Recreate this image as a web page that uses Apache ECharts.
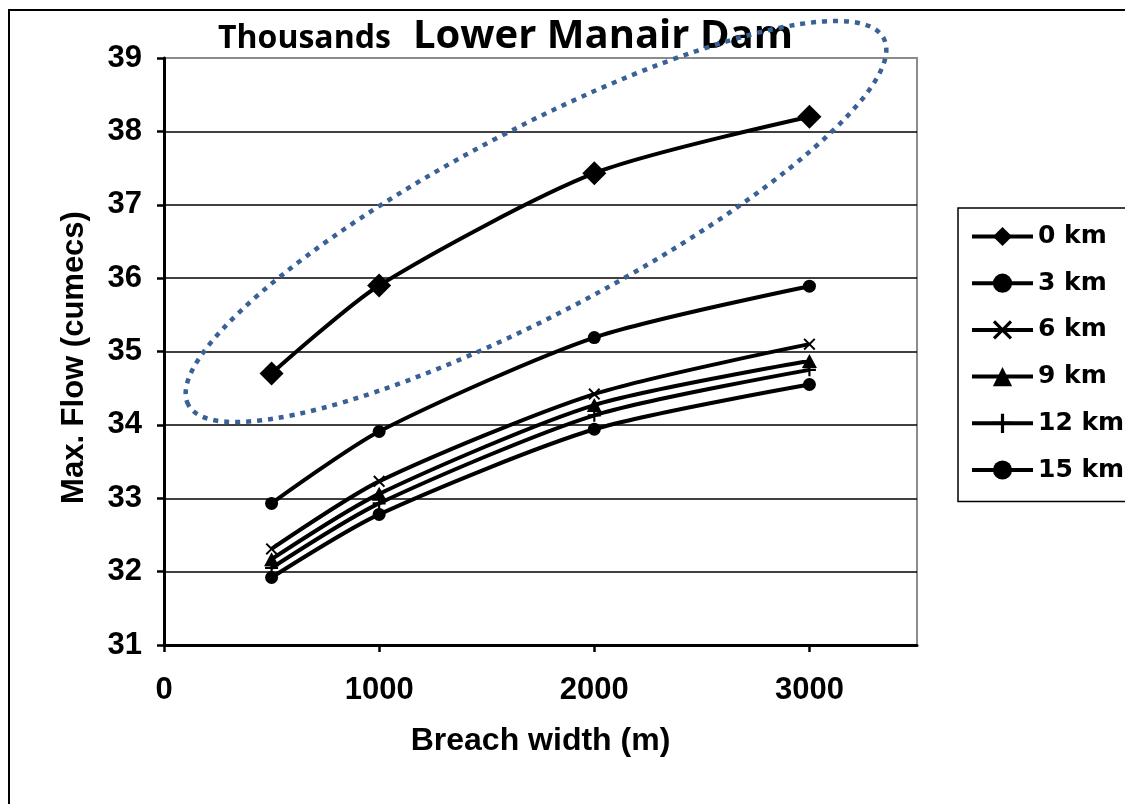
<!DOCTYPE html>
<html>
<head>
<meta charset="utf-8">
<title>Lower Manair Dam</title>
<script src="https://cdn.jsdelivr.net/npm/echarts@6/dist/echarts.min.js"></script>
<style>
  html, body { margin: 0; padding: 0; background: #fff; }
  #chart { width: 1125px; height: 804px; }
</style>
</head>
<body>
<div id="chart"></div>
<script>
// Breach widths (m) at which the peak flow was computed
const breachWidths = [500, 1000, 2000, 3000];

// Peak flow (thousand cumecs) at each distance downstream of the dam
const flow0km  = [34.70, 35.90, 37.43, 38.20];
const flow3km  = [32.93, 33.91, 35.19, 35.89];
const flow6km  = [32.31, 33.23, 34.42, 35.10];
const flow9km  = [32.17, 33.06, 34.27, 34.87];
const flow12km = [32.05, 32.93, 34.13, 34.75];
const flow15km = [31.92, 32.78, 33.94, 34.55];

const seriesNames = ['0 km', '3 km', '6 km', '9 km', '12 km', '15 km'];
const seriesValues = [flow0km, flow3km, flow6km, flow9km, flow12km, flow15km];

// Axis ticks
const xTicks = [0, 1000, 2000, 3000];
const yTicks = [31, 32, 33, 34, 35, 36, 37, 38, 39];

// Marker shapes
const plusPath = 'path://M5,0H7V5H12V7H7V12H5V7H0V5H5Z';
const crossPath = 'path://M0,1.4L1.4,0L6,4.6L10.6,0L12,1.4L7.4,6L12,10.6L10.6,12L6,7.4L1.4,12L0,10.6L4.6,6Z';
const markers = [
  { symbol: 'diamond',  size: 24 },
  { symbol: 'circle',   size: 13 },
  { symbol: crossPath,  size: 12 },
  { symbol: 'triangle', size: [15, 14] },
  { symbol: plusPath,   size: 13 },
  { symbol: 'circle',   size: 13 }
];

const axisFont = { fontFamily: 'Liberation Sans', fontWeight: 'bold', color: '#000' };

const chart = echarts.init(document.getElementById('chart'), null, { renderer: 'canvas' });

const series = seriesNames.map((name, i) => ({
  name: name,
  type: 'line',
  smooth: 0.25,
  data: breachWidths.map((w, j) => [w, seriesValues[i][j]]),
  symbol: markers[i].symbol,
  symbolSize: markers[i].size,
  showAllSymbol: true,
  lineStyle: { color: '#000', width: 4 },
  itemStyle: { color: '#000' },
  emphasis: { disabled: true },
  z: 5
}));

chart.setOption({
  animation: false,
  backgroundColor: '#fff',
  title: {
    text: 'Lower Manair Dam',
    left: 413,
    top: 17,
    padding: 0,
    textStyle: { fontFamily: 'Open Sans', fontWeight: 'bold', fontSize: 40, color: '#000' }
  },
  grid: {
    left: 164, top: 58, right: 208, bottom: 159,
    show: true,
    backgroundColor: '#fff',
    borderColor: '#8c8c8c',
    borderWidth: 2,
    outerBoundsMode: 'none'
  },
  legend: {
    orient: 'vertical',
    left: 958,
    top: 208,
    padding: [16, 90, 19, 12],
    itemWidth: 61,
    itemHeight: 24,
    itemGap: 21.7,
    borderColor: '#000',
    borderWidth: 1.5,
    borderRadius: 0,
    backgroundColor: '#fff',
    data: seriesNames,
    lineStyle: { width: 4 },
    textStyle: { fontFamily: 'DejaVu Sans', fontWeight: 'bold', fontSize: 25, color: '#000' },
    selectedMode: false
  },
  xAxis: {
    type: 'value',
    min: 0,
    max: 3500,
    interval: 1000,
    name: 'Breach width (m)',
    nameLocation: 'middle',
    nameGap: 80,
    nameTextStyle: Object.assign({ fontSize: 32 }, axisFont),
    axisLine: { show: true, lineStyle: { color: '#000', width: 3 } },
    axisTick: { show: true, length: 7, lineStyle: { color: '#000', width: 2.5 }, customValues: xTicks },
    axisLabel: Object.assign({ fontSize: 31, margin: 30, customValues: xTicks, formatter: v => String(v) }, axisFont),
    splitLine: { show: false }
  },
  yAxis: {
    type: 'value',
    min: yTicks[0],
    max: yTicks[yTicks.length - 1],
    interval: 1,
    name: 'Max. Flow (cumecs)',
    nameLocation: 'middle',
    nameGap: 74,
    nameRotate: 90,
    nameTextStyle: Object.assign({ fontSize: 31, padding: [0, 12, 0, 0] }, axisFont),
    axisLine: { show: true, onZero: false, lineStyle: { color: '#000', width: 3 } },
    axisTick: { show: true, length: 7, lineStyle: { color: '#000', width: 2.5 } },
    axisLabel: Object.assign({ fontSize: 31, margin: 22 }, axisFont),
    splitLine: { show: true, showMaxLine: false, lineStyle: { color: '#000', width: 1.5 } }
  },
  graphic: [
    {
      // outer chart frame
      type: 'rect',
      z: -10,
      shape: { x: 9, y: 10, width: 1300, height: 1000 },
      style: { fill: null, stroke: '#000', lineWidth: 2 }
    },
    {
      // display units of the value axis
      type: 'text',
      z: 10,
      x: 218,
      y: 39,
      style: {
        text: 'Thousands',
        fill: '#000',
        font: 'bold 32px "Open Sans"',
        verticalAlign: 'middle',
        align: 'left'
      }
    },
    {
      // dotted outline around the 0 km curve
      type: 'ellipse',
      z: 100,
      x: 536,
      y: 221.5,
      rotation: 0.485,
      shape: { cx: 0, cy: 0, rx: 393, ry: 92 },
      style: { fill: null, stroke: '#3A6196', lineWidth: 4.5, lineDash: [5, 6] }
    }
  ],
  series: series
});
</script>
</body>
</html>
